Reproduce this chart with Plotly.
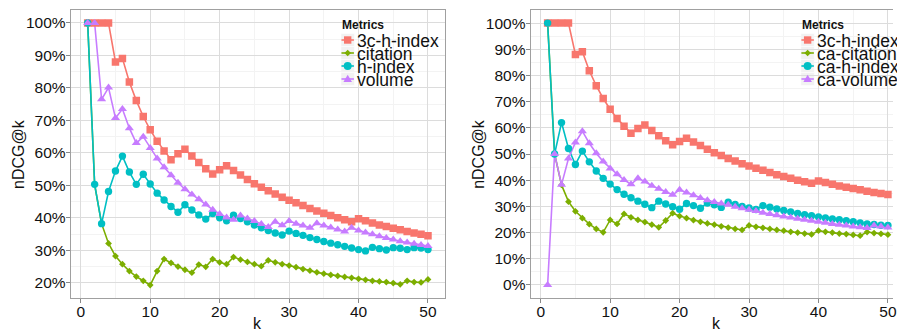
import plotly.graph_objects as go

W, H = 897, 334

# ---- data: nDCG@k (%) for k = 1..50 ----
k = list(range(1, 51))

h3c = [100, 100, 100, 100, 88.0, 89.1, 81.8, 76.1, 71.2, 67.1,
       63.6, 60.6, 57.9, 59.7, 61.1, 59.0, 57.0, 55.1, 53.5, 54.8,
       56.0, 54.6, 53.2, 51.8, 50.5, 49.4, 48.3, 47.3, 46.3, 45.4,
       44.6, 43.8, 42.9, 42.1, 41.4, 40.7, 40.0, 39.4, 38.8, 39.7,
       39.1, 38.4, 37.8, 37.3, 36.8, 36.3, 35.8, 35.3, 34.9, 34.5]

citation = [100, 50.2, 38.2, 32.1, 28.2, 25.7, 23.6, 21.9, 20.6, 19.3,
            23.6, 27.3, 26.1, 25.0, 24.0, 23.1, 25.6, 24.9, 27.3, 26.3,
            25.7, 27.9, 27.1, 26.4, 25.7, 25.1, 26.9, 26.3, 25.7, 25.3,
            24.8, 24.2, 23.7, 23.2, 22.8, 22.4, 22.1, 21.8, 21.5, 21.2,
            20.9, 20.6, 20.4, 20.2, 19.9, 19.5, 20.6, 20.2, 20.1, 21.0]

hindex = [100, 50.3, 38.2, 48.1, 54.4, 59.0, 54.1, 50.3, 53.4, 50.4,
          47.6, 45.5, 43.5, 41.7, 44.0, 42.4, 40.9, 39.6, 41.3, 40.0,
          39.1, 40.8, 39.8, 38.8, 37.8, 36.9, 36.1, 35.3, 34.7, 35.9,
          35.2, 34.6, 33.9, 33.3, 32.7, 32.2, 31.7, 31.2, 30.7, 30.2,
          29.8, 30.9, 30.5, 30.1, 30.8, 30.6, 30.2, 30.8, 30.7, 30.2]

volume = [100, 100, 76.5, 80.1, 70.7, 73.5, 67.6, 63.0, 65.0, 61.5,
          58.3, 55.6, 53.1, 50.8, 48.8, 47.2, 45.7, 44.1, 42.5, 41.2,
          40.1, 39.4, 40.7, 39.8, 39.0, 38.1, 37.2, 38.8, 37.7, 39.0,
          38.2, 37.6, 36.9, 38.3, 37.6, 37.0, 36.4, 35.8, 36.9, 36.1,
          35.5, 34.9, 34.3, 33.8, 33.3, 32.8, 32.4, 32.0, 31.6, 31.3]

ca_citation = [100, 50, 38.2, 31.8, 28.1, 25.5, 23.2, 21.4, 20.1, 24.8,
               23.3, 27.1, 25.8, 24.8, 24.0, 23.0, 22.0, 24.6, 27.4, 26.3,
               25.5, 24.7, 24.1, 23.5, 23.0, 22.4, 21.9, 21.4, 21.0, 22.7,
               22.2, 21.8, 21.4, 21.0, 20.7, 20.3, 20.0, 19.6, 19.3, 20.7,
               20.3, 20.0, 19.6, 19.4, 19.1, 18.8, 20.2, 19.8, 19.5, 19.2]

ca_hindex = [100, 50, 62.0, 52.1, 46.0, 51.1, 47.0, 43.5, 40.7, 38.5,
             36.4, 34.6, 33.3, 32.0, 30.8, 29.5, 32.0, 30.9, 29.9, 28.9,
             31.1, 30.3, 29.3, 31.3, 30.6, 29.6, 31.6, 30.7, 30.0, 29.4,
             28.8, 30.3, 29.7, 29.0, 28.4, 27.9, 27.3, 26.8, 26.4, 26.0,
             25.6, 25.2, 24.9, 24.5, 24.1, 23.7, 23.3, 23.1, 22.8, 22.7]

ca_volume = [0, 50, 38.3, 48.3, 54.4, 58.7, 54.1, 50.3, 47.1, 44.5,
             42.3, 40.1, 38.4, 40.7, 39.5, 37.9, 36.7, 35.5, 34.4, 36.3,
             35.3, 34.2, 33.2, 32.3, 31.7, 31.1, 30.6, 29.9, 29.3, 28.7,
             28.2, 27.6, 27.1, 26.6, 26.1, 25.7, 25.3, 24.9, 24.5, 24.1,
             23.7, 23.3, 23.0, 22.7, 22.3, 22.0, 21.7, 22.7, 22.3, 21.9]

x_ticks = [0, 10, 20, 30, 40, 50]
y_ticks_left = [20, 30, 40, 50, 60, 70, 80, 90, 100]
y_ticks_right = [0, 10, 20, 30, 40, 50, 60, 70, 80, 90, 100]

left_names = ["3c-h-index", "citation", "h-index", "volume"]
right_names = ["3c-h-index", "ca-citation", "ca-h-index", "ca-volume"]
left_values = [h3c, citation, hindex, volume]
right_values = [h3c, ca_citation, ca_hindex, ca_volume]

# ---- styling ----
COLORS = ["#F8766D", "#7CAE00", "#00BFC4", "#C77CFF"]
SYMBOLS = ["square", "diamond", "circle", "triangle-up"]
SIZES = [7.5, 5.2, 7.4, 8.0]
FONT = "Liberation Sans, Arial, Helvetica, sans-serif"
GRID = "#dcdcdc"
MINOR = "#f3f3f3"
BORDER = "#a0a0a0"


def fx(x):
    return x / W


def fy(y):
    return 1 - y / H


def pct(vals):
    return [f"{v}%" for v in vals]


fig = go.Figure()

# lines first (all series), then points, so every point sits above every line
for xa, ya, series in (("x", "y", left_values), ("x2", "y2", right_values)):
    for vals, col in zip(series, COLORS):
        fig.add_trace(go.Scatter(x=k, y=vals, mode="lines", xaxis=xa, yaxis=ya,
                                 line=dict(color=col, width=1.6),
                                 hoverinfo="skip", showlegend=False))
    for vals, col, sym, sz in zip(series, COLORS, SYMBOLS, SIZES):
        fig.add_trace(go.Scatter(x=k, y=vals, mode="markers", xaxis=xa, yaxis=ya,
                                 marker=dict(color=col, symbol=sym, size=sz,
                                             line=dict(width=0)),
                                 showlegend=False))

top, bottom = 10, 298
common_x = dict(
    tickmode="array", tickvals=x_ticks, ticktext=[str(v) for v in x_ticks],
    ticks="outside", ticklen=4, tickcolor="#888", tickwidth=1,
    ticklabelstandoff=-5, ticklabeloverflow="allow",
    tickfont=dict(family=FONT, size=15.5, color="#111"),
    showgrid=True, gridcolor=GRID, gridwidth=1.3, zeroline=False,
    minor=dict(tickvals=[5, 15, 25, 35, 45], showgrid=True, gridcolor=MINOR,
               gridwidth=1, ticks=""),
    showline=True, linecolor=BORDER, linewidth=1, mirror=True,
)
common_y = dict(
    tickmode="array", ticks="outside", ticklen=4, tickcolor="#888", tickwidth=1,
    ticklabelstandoff=-3,
    tickfont=dict(family=FONT, size=15.5, color="#111"),
    showgrid=True, gridcolor=GRID, gridwidth=1.3, zeroline=False,
    showline=True, linecolor=BORDER, linewidth=1,
)

fig.update_layout(
    width=W, height=H, margin=dict(l=0, r=0, t=0, b=0),
    paper_bgcolor="white", plot_bgcolor="white", showlegend=False,
    xaxis=dict(common_x, domain=[fx(71), fx(447)], range=[-1.45, 52.45], anchor="y"),
    yaxis=dict(common_y, domain=[fy(bottom), fy(top)], range=[15.3, 104.0],
               tickvals=y_ticks_left, ticktext=pct(y_ticks_left),
               mirror=True, anchor="x",
               minor=dict(tickvals=[15, 25, 35, 45, 55, 65, 75, 85, 95],
                          showgrid=True, gridcolor=MINOR, gridwidth=1, ticks="")),
    xaxis2=dict(common_x, domain=[fx(533), 1.0], range=[-1.45, 50.73], anchor="y2"),
    yaxis2=dict(common_y, domain=[fy(bottom), fy(top)], range=[-5, 105],
                tickvals=y_ticks_right, ticktext=pct(y_ticks_right),
                mirror=False, anchor="x2",
                minor=dict(tickvals=[5, 15, 25, 35, 45, 55, 65, 75, 85, 95],
                           showgrid=True, gridcolor=MINOR, gridwidth=1, ticks="")),
)

shapes = []
annotations = []

# axis titles
for cx in (259, 720):
    annotations.append(dict(x=fx(cx), y=fy(323), xref="paper", yref="paper",
                            text="k", showarrow=False, xanchor="center",
                            yanchor="middle",
                            font=dict(family=FONT, size=16, color="#111")))
for cx in (18, 480):
    annotations.append(dict(x=fx(cx), y=fy(154), xref="paper", yref="paper",
                            text="nDCG@k", showarrow=False, textangle=-90,
                            xanchor="center", yanchor="middle",
                            font=dict(family=FONT, size=16, color="#111")))


def legend_block(off, names):
    shapes.append(dict(type="rect", xref="paper", yref="paper", layer="between",
                       x0=fx(341 + off), x1=fx(min(446 + off, W)),
                       y0=fy(88), y1=fy(15), fillcolor="white",
                       line=dict(width=0)))
    annotations.append(dict(x=fx(341.5 + off), y=fy(24.5), xref="paper", yref="paper",
                            text="<b>Metrics</b>", showarrow=False,
                            xanchor="left", yanchor="middle",
                            font=dict(family=FONT, size=12, color="#111")))
    rows = [40, 53, 66, 79]
    kx0, kx1 = 342.5 + off, 356 + off
    cx = (kx0 + kx1) / 2
    for i, (name, col, cy) in enumerate(zip(names, COLORS, rows)):
        shapes.append(dict(type="rect", xref="paper", yref="paper", layer="between",
                           x0=fx(kx0), x1=fx(kx1), y0=fy(cy + 6.5), y1=fy(cy - 6.5),
                           fillcolor="#f2f2f2", line=dict(color="white", width=0.5)))
        shapes.append(dict(type="line", xref="paper", yref="paper", layer="above",
                           x0=fx(kx0 + 0.5), x1=fx(kx1 - 0.5), y0=fy(cy), y1=fy(cy),
                           line=dict(color=col, width=1.6)))
        if i == 0:
            shapes.append(dict(type="rect", xref="paper", yref="paper", layer="above",
                               x0=fx(cx - 3.7), x1=fx(cx + 3.7),
                               y0=fy(cy + 3.7), y1=fy(cy - 3.7),
                               fillcolor=col, line=dict(width=0)))
        elif i == 1:
            d = 3.3
            path = (f"M{fx(cx - d)},{fy(cy)} L{fx(cx)},{fy(cy - d)} "
                    f"L{fx(cx + d)},{fy(cy)} L{fx(cx)},{fy(cy + d)} Z")
            shapes.append(dict(type="path", xref="paper", yref="paper", layer="above",
                               path=path, fillcolor=col, line=dict(width=0)))
        elif i == 2:
            shapes.append(dict(type="circle", xref="paper", yref="paper", layer="above",
                               x0=fx(cx - 4), x1=fx(cx + 4),
                               y0=fy(cy + 4), y1=fy(cy - 4),
                               fillcolor=col, line=dict(width=0)))
        else:
            path = (f"M{fx(cx - 4.3)},{fy(cy + 3)} L{fx(cx + 4.3)},{fy(cy + 3)} "
                    f"L{fx(cx)},{fy(cy - 4.2)} Z")
            shapes.append(dict(type="path", xref="paper", yref="paper", layer="above",
                               path=path, fillcolor=col, line=dict(width=0)))
        annotations.append(dict(x=fx(kx1 + 0.5), y=fy(cy + 0.5), xref="paper",
                                yref="paper", text=name, showarrow=False,
                                xanchor="left", yanchor="middle",
                                font=dict(family=FONT, size=17.5, color="#111")))


legend_block(0, left_names)
legend_block(462, right_names)

fig.update_layout(shapes=shapes, annotations=annotations)
fig.write_html("out.html")
